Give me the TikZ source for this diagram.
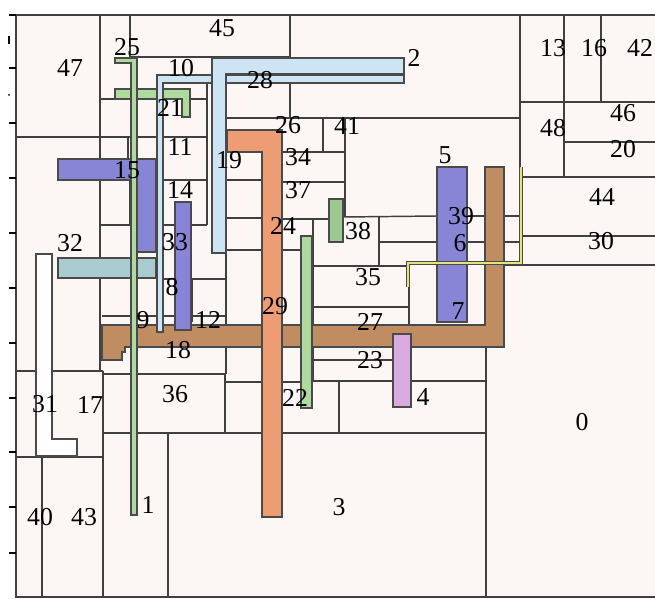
\documentclass[tikz,border=0pt]{standalone}
\usepackage{fontspec}
\setmainfont{Liberation Serif}
\usepackage{xcolor}
\usepackage{tikz}

\definecolor{roombg}{HTML}{FCF6F4}
\definecolor{wallgray}{HTML}{404040}
\definecolor{bargray}{HTML}{4A4A4A}
\definecolor{skyblue}{HTML}{CCE4F4}
\definecolor{salmon}{HTML}{EE9C74}
\definecolor{violet}{HTML}{8885D6}
\definecolor{tealgray}{HTML}{A9CCD1}
\definecolor{clay}{HTML}{C08C62}
\definecolor{leaf}{HTML}{AEDA9E}
\definecolor{moss}{HTML}{9CC78F}
\definecolor{orchid}{HTML}{D8AADF}
\definecolor{straw}{HTML}{E4E47E}

\begin{document}
\begin{tikzpicture}[
        x=0.03cm, y=-0.03cm,
        wall/.style={draw=wallgray, line width=1.25pt},
        bar/.style={draw=bargray, line width=1pt},
        lbl/.style={font=\fontsize{22}{22}\selectfont, text=black, inner sep=0pt},
        tick/.style={draw=black, line width=1.5pt}
    ]

    \useasboundingbox (0,0) rectangle (655,599);

    % floor area and frame
    \fill[roombg] (16,15) rectangle (655,597);
    \draw[wall, line width=1.6pt] (655,15) -- (16,15) -- (16,597) -- (655,597);
    \foreach \ty in {15,68,123,178,233,288,343,398,452,507,553}
        \draw[tick] (9,\ty) -- (16,\ty);
    \draw[tick, line width=1pt] (9,36) -- (9,44);
    \fill[black] (9,95) circle (1);

    % room walls
    \foreach \xa/\ya/\xb/\yb in {
        100/15/100/371, 130/15/130/57, 290/15/290/58, 290/83/290/118,
        520/15/520/265, 564/15/564/177, 601/15/601/102,
        128/137/128/159, 130/180/130/225, 207/83/207/225,
        226/253/226/374, 323/118/323/152, 345/118/345/217,
        379/216/379/266, 313/219/313/381, 409/263/409/325,
        339/381/339/433, 486/347/486/597, 103/371/103/597,
        168/433/168/597, 42/457/42/597, 225/374/225/433, 192/278/192/322,
        130/57/290/57, 100/99/207/99, 16/137/207/137, 163/180/207/180,
        100/225/207/225, 226/118/520/118,
        282/152/345/152, 282/182/345/182, 226/180/262/180,
        226/218/262/218, 282/219/329/219, 343/217/437/216,
        467/216/485/216, 504/216/520/216,
        379/242/437/242, 467/242/485/242, 504/242/520/242,
        226/250/262/250, 282/250/301/250,
        520/102/655/102, 564/142/655/142, 520/177/655/177,
        520/236/655/236, 504/265/655/265,
        313/266/409/266, 313/307/409/307, 156/279/226/279,
        102/316/226/316, 313/360/393/360, 313/381/486/381,
        226/382/262/382, 282/382/313/382,
        16/371/103/371, 103/374/225/374, 103/433/486/433, 16/457/103/457}
        \draw[wall] (\xa,\ya) -- (\xb,\yb);

    % modules
    \filldraw[bar, fill=clay] (102,325) -- (485,325) -- (485,167) -- (504,167) -- (504,347)
        -- (125,347) -- (125,352) -- (122,352) -- (122,360) -- (102,360) -- cycle;
    \filldraw[bar, fill=leaf] (115,89) -- (190,89) -- (190,117) -- (182,117) -- (182,99) -- (115,99) -- cycle;
    \filldraw[bar, fill=skyblue] (157,75) -- (404,75) -- (404,83) -- (163,83) -- (163,332) -- (157,332) -- cycle;
    \filldraw[bar, fill=skyblue] (212,58) -- (404,58) -- (404,74) -- (226,74) -- (226,253) -- (212,253) -- cycle;
    \filldraw[bar, fill=salmon] (227,130) -- (282,130) -- (282,517) -- (262,517) -- (262,152) -- (227,152) -- cycle;
    \filldraw[bar, fill=violet] (58,159) -- (156,159) -- (156,252) -- (137,252) -- (137,180) -- (58,180) -- cycle;
    \filldraw[bar, fill=tealgray] (58,258) rectangle (156,278);
    \filldraw[bar, fill=violet] (175,202) rectangle (191,330);
    \filldraw[bar, fill=violet] (437,167) rectangle (467,322);
    \filldraw[bar, fill=leaf] (301,236) rectangle (312,408);
    \filldraw[bar, fill=moss] (329,199) rectangle (343,242);
    \filldraw[bar, fill=leaf] (115,58) -- (137,58) -- (137,515) -- (131,515) -- (131,63) -- (115,63) -- cycle;
    \filldraw[bar, fill=orchid] (393,334) rectangle (411,407);
    \filldraw[bar, fill=white] (36,254) -- (52,254) -- (52,439) -- (77,439) -- (77,456) -- (36,456) -- cycle;
    \draw[bargray, line width=3.4pt] (408,287) -- (408,263) -- (521,263) -- (521,167);
    \draw[straw, line width=1.7pt] (408,287) -- (408,263) -- (521,263) -- (521,167);

    % labels
    \foreach \lab/\px/\py in {
        0/582/422, 1/148/505, 2/414/58, 3/339/507, 4/423/397, 5/445/155,
        6/460/243, 7/458/311, 8/172/287, 9/143/320, 10/181/68, 11/180/147,
        12/208/320, 13/553/48, 14/180/190, 15/127/170, 16/594/48, 17/90/405,
        18/178/350, 19/229/160, 20/623/149, 21/170/108, 22/295/398, 23/370/360,
        24/283/226, 25/127/47, 26/288/125, 27/370/322, 28/260/80, 29/275/306,
        30/601/241, 31/45/404, 32/70/243, 33/175/242, 34/298/157, 35/368/277,
        36/175/394, 37/298/190, 38/358/231, 39/461/216, 40/40/517, 41/347/126,
        42/640/48, 43/84/517, 44/602/197, 45/222/28, 46/623/113, 47/70/68,
        48/553/128}
        \node[lbl] (m\lab) at (\px,\py) {\lab};

\end{tikzpicture}
\end{document}
